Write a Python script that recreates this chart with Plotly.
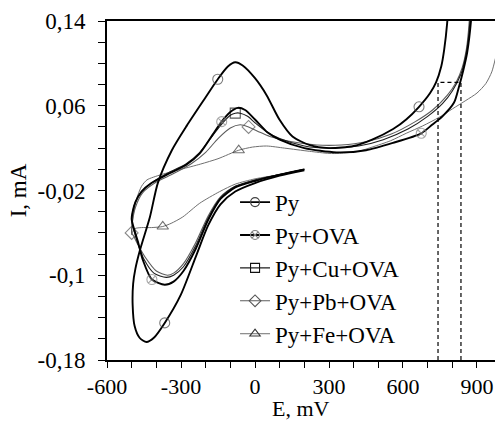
import plotly.graph_objects as go

# ---------------- data ----------------
series_names = ["Py", "Py+OVA", "Py+Cu+OVA", "Py+Pb+OVA", "Py+Fe+OVA"]

py_E = [200, 100, 0, -80, -140, -190, -236, -300, -366, -410, -440, -468, -488, -496, -494, -485, -466, -426,
        -394, -337, -277, -200, -151, -110, -80, -50, 0, 47, 99, 152, 220, 300, 400, 475, 560, 613, 665, 710,
        734, 755, 767, 779, 790]
py_I = [-0.001, -0.006, -0.013, -0.021, -0.033, -0.053, -0.080, -0.118, -0.145, -0.159, -0.163, -0.159, -0.148,
        -0.128, -0.108, -0.094, -0.076, -0.045, -0.013, 0.018, 0.041, 0.068, 0.085, 0.097, 0.101, 0.098, 0.086,
        0.070, 0.047, 0.031, 0.023, 0.020, 0.022, 0.028, 0.038, 0.047, 0.059, 0.072, 0.082, 0.097, 0.113, 0.138, 0.18]
py_marks = [(-366, -0.145), (-151, 0.085), (665, 0.059)]

ova_E = [200, 100, 0, -80, -140, -190, -240, -290, -330, -366, -418, -454, -475, -492, -500, -496, -485, -460,
         -420, -357, -280, -224, -171, -135, -100, -70, -40, 0, 50, 100, 200, 330, 450, 560, 674, 718, 760, 807,
         827, 845, 860, 876, 885]
ova_I = [0.000, -0.005, -0.011, -0.017, -0.028, -0.048, -0.075, -0.096, -0.106, -0.109, -0.104, -0.086, -0.068,
         -0.055, -0.047, -0.040, -0.031, -0.021, -0.013, -0.005, 0.004, 0.015, 0.033, 0.045, 0.054, 0.058, 0.056,
         0.047, 0.035, 0.028, 0.020, 0.016, 0.018, 0.025, 0.034, 0.042, 0.050, 0.063, 0.078, 0.094, 0.110, 0.141, 0.18]
ova_marks = [(-418, -0.104), (-135, 0.045), (674, 0.034)]

cu_E = [200, 100, 0, -80, -140, -190, -240, -290, -330, -360, -410, -450, -475, -492, -500, -496, -485, -460,
        -420, -357, -280, -224, -171, -130, -100, -80, -60, -30, 0, 50, 100, 200, 300, 420, 520, 620, 700, 760,
        800, 835, 855, 868, 878]
cu_I = [0.000, -0.005, -0.010, -0.016, -0.027, -0.046, -0.072, -0.092, -0.100, -0.102, -0.098, -0.085, -0.070,
        -0.057, -0.048, -0.040, -0.031, -0.021, -0.013, -0.004, 0.005, 0.016, 0.032, 0.044, 0.051, 0.053, 0.053,
        0.050, 0.044, 0.035, 0.029, 0.022, 0.020, 0.022, 0.028, 0.038, 0.050, 0.062, 0.074, 0.090, 0.108, 0.130, 0.17]
cu_marks = [(-80, 0.053)]

pb_E = [200, 100, 0, -80, -140, -190, -240, -290, -330, -355, -400, -445, -475, -492, -500, -496, -485, -455,
        -400, -330, -260, -200, -150, -100, -60, -26, 20, 60, 150, 250, 350, 450, 550, 650, 720, 780, 815, 840,
        858, 868, 875]
pb_I = [0.000, -0.005, -0.010, -0.016, -0.026, -0.044, -0.069, -0.089, -0.098, -0.100, -0.096, -0.083, -0.071,
        -0.063, -0.060, -0.048, -0.036, -0.022, -0.012, -0.004, 0.005, 0.016, 0.029, 0.039, 0.042, 0.040, 0.035,
        0.031, 0.026, 0.023, 0.023, 0.026, 0.033, 0.045, 0.056, 0.070, 0.082, 0.096, 0.115, 0.138, 0.17]
pb_marks = [(-26, 0.040), (-500, -0.060)]

fe_E = [200, 100, 0, -80, -143, -224, -293, -340, -374, -420, -460, -487, -498, -500, -495, -480, -460, -438,
        -380, -300, -220, -150, -66, -10, 47, 120, 221, 300, 342, 420, 475, 550, 613, 680, 746, 800, 855, 900,
        936, 960, 975]
fe_I = [0.000, -0.005, -0.009, -0.014, -0.021, -0.032, -0.045, -0.051, -0.054, -0.055, -0.055, -0.056, -0.060,
        -0.062, -0.045, -0.028, -0.016, -0.010, -0.005, 0.000, 0.005, 0.010, 0.018, 0.021, 0.022, 0.020, 0.017,
        0.015, 0.015, 0.017, 0.021, 0.027, 0.034, 0.041, 0.049, 0.057, 0.065, 0.072, 0.081, 0.092, 0.105]
fe_marks = [(-374, -0.054), (-66, 0.018)]

window_E = [742, 835]
window_I = 0.082

x_ticks = [-600, -300, 0, 300, 600, 900]
x_ticktext = ["-600", "-300", "0", "300", "600", "900"]
y_ticks = [0.14, 0.06, -0.02, -0.10, -0.18]
y_ticktext = ["0,14", "0,06", "-0,02", "-0,1", "-0,18"]

# ---------------- figure ----------------
FONT = "Liberation Serif"
FS = 23
fig = go.Figure()

styles = [
    # name, E, I, marks, color, width, symbol, mcolor, rank
    ("Py+Fe+OVA", fe_E, fe_I, fe_marks, "#707070", 1.0, "triangle-up-open", "#333333", 5),
    ("Py+Pb+OVA", pb_E, pb_I, pb_marks, "#5c5c5c", 1.1, "diamond-open", "#555555", 4),
    ("Py+Cu+OVA", cu_E, cu_I, cu_marks, "#1e1e1e", 1.1, "square-open", "#111111", 3),
    ("Py+OVA", ova_E, ova_I, ova_marks, "#000000", 1.9, "circle-x-open", "#808080", 2),
    ("Py", py_E, py_I, py_marks, "#000000", 1.9, "circle-open", "#444444", 1),
]

for name, E, I, marks, col, w, sym, mcol, rank in styles:
    sizes = [10 if (e, i) in marks else 0 for e, i in zip(E, I)]
    fig.add_trace(go.Scatter(
        x=E, y=I, mode="lines+markers", name=name, showlegend=False,
        line=dict(color=col, width=w, shape="spline", smoothing=0.7),
        marker=dict(symbol=sym, size=sizes, color=mcol, line=dict(width=1.1, color=mcol)),
        cliponaxis=True, hoverinfo="skip",
    ))

# legend entries (same styles, legend only)
for name, E, I, marks, col, w, sym, mcol, rank in styles:
    fig.add_trace(go.Scatter(
        x=[None], y=[None], mode="lines+markers", name=name,
        line=dict(color=col, width=w),
        marker=dict(symbol=sym, size=9, color=mcol, line=dict(width=1.1, color=mcol)),
        legendrank=rank, legendgroup="all",
    ))

# dashed window
fig.add_trace(go.Scatter(
    x=[window_E[0], window_E[0], window_E[1], window_E[1]],
    y=[-0.18, window_I, window_I, -0.18],
    mode="lines", line=dict(color="black", width=1.2, dash="4px,3px"),
    showlegend=False, hoverinfo="skip",
))

fig.update_layout(
    width=495, height=421,
    margin=dict(l=107, r=0, t=21, b=61),
    paper_bgcolor="white", plot_bgcolor="white",
    font=dict(family=FONT, size=FS, color="black"),
    showlegend=True,
    legend=dict(
        x=0.330, y=0.529, xanchor="left", yanchor="top",
        bgcolor="rgba(0,0,0,0)", borderwidth=0,
        font=dict(family=FONT, size=FS, color="black"),
        itemwidth=30, tracegroupgap=0,
    ),
    annotations=[
        dict(text="E, mV", xref="paper", yref="paper", x=0.5, y=-0.1416,
             xanchor="center", yanchor="middle", showarrow=False,
             font=dict(family=FONT, size=22, color="black")),
    ],
)

fig.update_xaxes(
    range=[-600, 973], showgrid=False, zeroline=False,
    showline=True, linecolor="black", linewidth=2, mirror=True,
    ticks="outside", ticklen=6, tickwidth=1, tickcolor="black",
    tickmode="array", tickvals=x_ticks, ticktext=x_ticktext,
    minor=dict(tickmode="linear", tick0=-600, dtick=100, ticks="outside", ticklen=6, tickwidth=1, tickcolor="black"),
    tickfont=dict(family=FONT, size=22, color="black"),
    ticklabelstandoff=0,
)
fig.update_yaxes(
    range=[-0.18, 0.14], showgrid=False, zeroline=False,
    showline=True, linecolor="black", linewidth=2, mirror=False,
    ticks="outside", ticklen=7, tickwidth=1, tickcolor="black",
    tickmode="array", tickvals=y_ticks, ticktext=y_ticktext,
    minor=dict(tickmode="linear", tick0=-0.18, dtick=0.02, ticks="outside", ticklen=7, tickwidth=1, tickcolor="black"),
    tickfont=dict(family=FONT, size=FS, color="black"),
    ticklabelstandoff=8,
    title=dict(text="I, mA", font=dict(family=FONT, size=FS, color="black"), standoff=4),
)

fig.write_html("out.html")
